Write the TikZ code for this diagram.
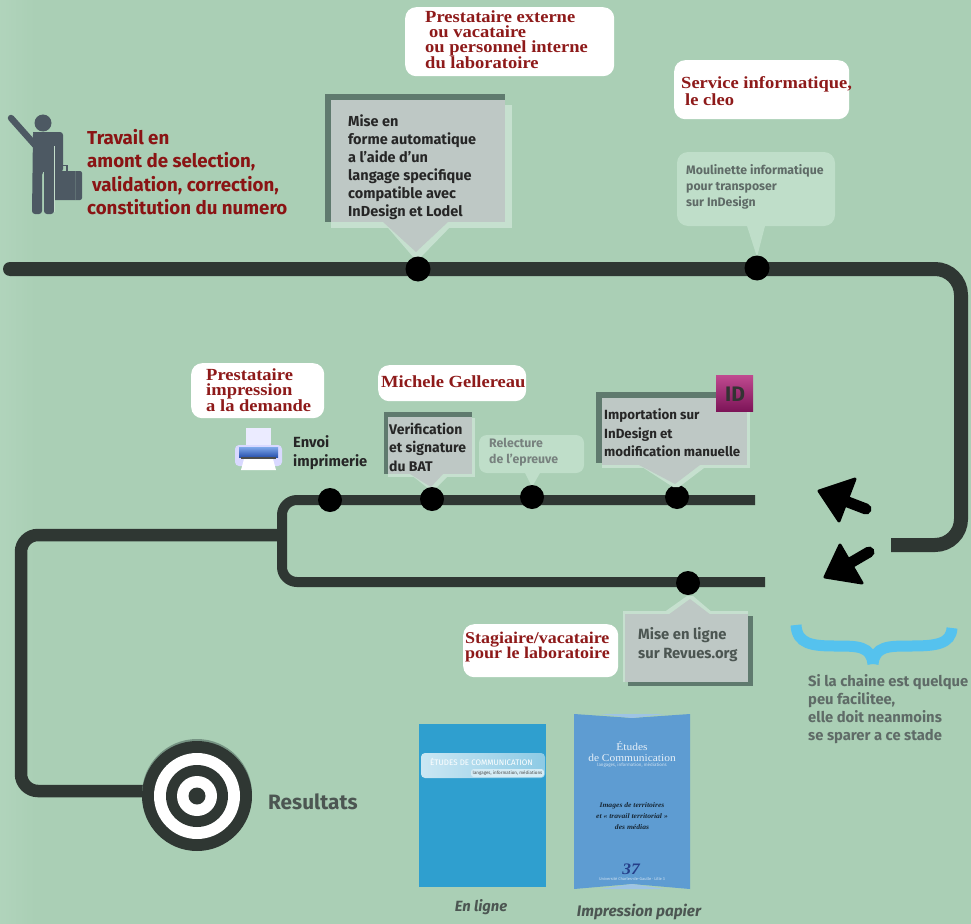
\documentclass[tikz,border=0pt]{standalone}
\usepackage{fontspec}
\setmainfont{Fira Sans}
\newfontfamily\serifb{Liberation Serif}[FakeStretch=1.09]
\usetikzlibrary{shadings}
\definecolor{bgc}{HTML}{AACFB5}
\definecolor{bgl}{HTML}{B1D4BC}
\definecolor{linec}{HTML}{2F3733}
\definecolor{redt}{HTML}{8A1414}
\definecolor{redd}{HTML}{8E1A1A}
\definecolor{graybox}{HTML}{BEC8C5}
\definecolor{darkedge}{HTML}{5F7A6E}
\definecolor{lite}{HTML}{C6E0CF}
\definecolor{bubble}{HTML}{BFDEC9}
\definecolor{greytxt}{HTML}{5F6B67}
\definecolor{iconc}{HTML}{4D5963}
\definecolor{bluebrace}{HTML}{55C2EE}
\definecolor{bookA}{HTML}{2F9FCF}
\definecolor{bookB}{HTML}{5E9CD2}
\definecolor{idtop}{HTML}{C04A90}
\definecolor{idbot}{HTML}{7D1458}
\definecolor{prA}{HTML}{7FA8EA}
\definecolor{prB}{HTML}{2A52AE}
\tikzset{
  x=1pt,y=-1pt,
  dot/.style={circle,fill=black,minimum size=#1,inner sep=0pt},
  rail/.style={draw=linec,line width=#1},
  who/.style={font=\serifb\bfseries\fontsize{17}{15}\selectfont,text=redd,align=left,anchor=west,inner sep=0pt},
  whob/.style={fill=white,rounded corners=11pt},
  body/.style={font=\bfseries\fontsize{14.5}{18}\selectfont,text=black!85,align=left,anchor=west,inner sep=0pt},
  softt/.style={font=\bfseries\fontsize{12.3}{16}\selectfont,text=greytxt,align=left,anchor=west,inner sep=0pt},
  ring/.style={circle,fill=#1,inner sep=0pt},
}
\begin{document}
\begin{tikzpicture}
\useasboundingbox (0,0) rectangle (971,923);
\fill[bgc] (-3,-3) rectangle (974,926);
\shade[left color=bgl,right color=bgc] (-3,-3) rectangle (35,926);
% rails
\coordinate (a0) at (10,269); \coordinate (a1) at (961,269); \coordinate (a2) at (961,545); \coordinate (a3) at (891,545);
\draw[rail=14,rounded corners=26pt] (a0) -- (a1) -- (a2) -- (a3);
\fill[linec] (a0) circle (7);
\coordinate (b0) at (755,500); \coordinate (b1) at (282,500); \coordinate (b2) at (282,582); \coordinate (b3) at (765,582);
\draw[rail=10,rounded corners=15pt] (b0) -- (b1) -- (b2) -- (b3);
\coordinate (c0) at (285,535); \coordinate (c1) at (21,535); \coordinate (c2) at (21,791); \coordinate (c3) at (190,791);
\draw[rail=12.5,rounded corners=17pt] (c0) -- (c1) -- (c2) -- (c3);
% person
\fill[iconc] (43,123) circle (8.5);
\draw[iconc,line width=6.5,line cap=round] (11,118) -- (35,145);
\fill[iconc,rounded corners=3pt] (33,132) -- (63,132) -- (63,172) -- (54,172) -- (54,214) -- (44,214) -- (44,172) -- (42,172) -- (42,214) -- (32,214) -- cycle;
\fill[iconc] (33,132) -- (45,132) -- (36,150) -- cycle;
\draw[iconc,line width=1.3] (57,171) -- (57,165.5) -- (67,165.5) -- (67,171);
\fill[iconc,rounded corners=2pt] (50,171) rectangle (82,200);
\draw[bgc!70!white,line width=1] (54,146) -- (54,212);
\draw[bgc,line width=1] (43,172) -- (43,212);
\draw[iconc!80!bgc,line width=.6] (75,171) -- (75,200);
\node[font=\bfseries\fontsize{18.7}{23.5}\selectfont,text=redt,align=left,anchor=west,inner sep=0pt] (travail) at (87,172) {Travail en\\amont de selection,\\\hspace*{5pt}validation, correction,\\constitution du numero};
% callout 1
\fill[darkedge] (325,94) rectangle (505,222);
\fill[lite] (331,105) rectangle (512,228);
\fill[lite] (383,222) -- (455,222) -- (420,258) -- (414,258) -- cycle;
\fill[graybox] (331,100) rectangle (505,222);
\fill[graybox] (383,222) -- (448,222) -- (416,252) -- cycle;
\node[body] (mise) at (348,167) {Mise en\\forme automatique\\a l'aide d'un\\langage specifique\\compatible avec\\InDesign et Lodel};
\node[whob,minimum width=209,minimum height=69,anchor=north west] (b1box) at (405,7) {};
\node[who] (presta) at (425,40) {Prestataire externe\\\hspace*{4pt}ou vacataire\\ou personnel interne\\du laboratoire};
% callout 2
\node[whob,minimum width=175,minimum height=59,anchor=north west] (b2box) at (674,60) {};
\node[who] (cleo) at (681,91) {Service informatique,\\\hspace*{4pt}le cleo};
\fill[bubble,rounded corners=11pt] (677,152) rectangle (835,226);
\fill[bubble] (747,226) -- (765,226) -- (757,257) -- cycle;
\node[softt] (moul) at (686,187) {Moulinette informatique\\pour transposer\\sur InDesign};
\node[dot=25] (d1) at (418,269) {};
\node[dot=25] (d2) at (757,268) {};
% row 2 labels
\node[whob,minimum width=133,minimum height=55,anchor=north west] (b3box) at (191,363) {};
\node[who] (pimp) at (206,390) {Prestataire\\impression\\a la demande};
\node[whob,minimum width=148,minimum height=36,anchor=north west] (b4box) at (378,365) {};
\node[who] (mg) at (381,382) {Michele Gellereau};
% printer
\fill[white!92!blue] (246,428) rectangle (271,446);
\fill[white!85!blue,rounded corners=4pt] (235,445) rectangle (282,466);
\shade[top color=prA,bottom color=prB] (239,447) rectangle (278,457);
\fill[black!70] (241,457) rectangle (276,459);
\fill[white] (244,459) -- (273,459) -- (276,470) -- (241,470) -- cycle;
\node[font=\bfseries\fontsize{14.7}{19}\selectfont,text=black!85,align=left,anchor=west,inner sep=0pt] (envoi) at (293,453) {Envoi\\imprimerie};
% verif
\fill[darkedge] (384,412) rectangle (472,474);
\fill[lite] (388,418) rectangle (475,477);
\fill[lite] (410,474) -- (450,474) -- (435,489) -- (429,489) -- cycle;
\fill[graybox] (388,417) rectangle (472,474);
\fill[graybox] (410,474) -- (443,474) -- (431,487) -- cycle;
\node[body,font=\bfseries\fontsize{14}{18.5}\selectfont] (verif) at (389,447) {Verification\\et signature\\du BAT};
\fill[bubble,rounded corners=8pt] (479,435) rectangle (584,473);
\fill[bubble] (525,473) -- (540,473) -- (532,487) -- cycle;
% rail dots
\node[dot=24] (d3) at (330,500) {};
\node[dot=24] (d4) at (432,499) {};
\node[dot=24] (d5) at (532,497) {};
\node[dot=24] (d6) at (677,497) {};
\node[dot=24] (d7) at (688,583) {};
\node[softt,text=greytxt!85!white] (relec) at (489,452) {Relecture\\de l'epreuve};
% import
\fill[darkedge] (596,392) rectangle (720,463);
\fill[lite] (602,400) rectangle (750,468);
\fill[lite] (639,465) -- (708,465) -- (679,487) -- (673,487) -- cycle;
\fill[graybox] (602,398) rectangle (747,465);
\fill[graybox] (639,465) -- (700,465) -- (675,484) -- cycle;
\node[body,font=\bfseries\fontsize{13.3}{18.5}\selectfont] (imp) at (604,433) {Importation sur\\InDesign et\\modification manuelle};
\shade[top color=idtop,bottom color=idbot] (716,375) rectangle (753,411);
\node[font=\bfseries\fontsize{21}{21}\selectfont,text=black!80,inner sep=0pt] (idl) at (735,394) {ID};
% revues
\fill[darkedge] (628,616) rectangle (753,686);
\fill[lite] (623,611) rectangle (748,682);
\fill[lite] (663,613) -- (713,613) -- (693,596) -- (687,596) -- cycle;
\fill[graybox] (625,614) rectangle (748,682);
\fill[graybox] (668,615) -- (711,615) -- (690,599) -- cycle;
\node[body,font=\bfseries\fontsize{14.8}{19}\selectfont,text=greytxt!80!black] (rev) at (638,645) {Mise en ligne\\sur Revues.org};
\node[whob,minimum width=155,minimum height=53,anchor=north west] (b5box) at (463,624) {};
\node[who,font=\serifb\bfseries\fontsize{16.5}{15.5}\selectfont] (stag) at (465,647) {Stagiaire/vacataire\\pour le laboratoire};
% black arrows
\coordinate (t1) at (819,491); \coordinate (t1e) at (866,509);
\draw[black,line width=11,line cap=round] (840,499) -- (t1e);
\fill[black,draw=black,line width=3,line join=round] (t1) -- (855,479) -- (839,521) -- cycle;
\coordinate (t2) at (825,577); \coordinate (t2e) at (869,552);
\draw[black,line width=11,line cap=round] (845,566) -- (t2e);
\fill[black,draw=black,line width=3,line join=round] (t2) -- (840,545) -- (862,583) -- cycle;
% brace
\draw[bluebrace,line width=11] (796,625) .. controls (797,644) and (812,646) .. (835,646) .. controls (858,646) and (871,646) .. (873,664);
\draw[bluebrace,line width=11] (952,628) .. controls (951,644) and (936,646) .. (911,646) .. controls (888,646) and (875,646) .. (873,664);
\node[softt,font=\bfseries\fontsize{14.8}{18}\selectfont] (sila) at (808,709) {Si la chaine est quelque\\peu facilitee,\\elle doit neanmoins\\se sparer a ce stade};
% target
\node[ring=darkedge!70!bgc,minimum size=110] (tgback) at (197,794) {};
\node[ring=linec,minimum size=110] (tg0) at (197,796) {};
\node[ring=white,minimum size=86] (tg1) at (197,796) {};
\node[ring=linec,minimum size=62] (tg2) at (197,796) {};
\node[ring=white,minimum size=40] (tg3) at (197,796) {};
\node[ring=linec,minimum size=17] (tg4) at (197,796) {};
\node[font=\bfseries\fontsize{20.8}{21}\selectfont,text=greytxt!80!black,anchor=west,inner sep=0pt] (res) at (268,802) {Resultats};
% book A
\fill[bookA] (419,724) rectangle (546,887);
\shade[left color=white!75!bookA,right color=white!45!bookA,rounded corners=4pt] (421,753) rectangle (545,778);
\node[font=\fontsize{8}{8}\selectfont,text=white,anchor=west,inner sep=0pt] (ea) at (430,762) {ÉTUDES DE COMMUNICATION};
\node[font=\fontsize{4.5}{5}\selectfont,text=black!70,fill=white!80!bookA,rounded corners=2pt,inner sep=1.5pt,anchor=east] (eb) at (544,773) {langages, information, médiations};
% book B
\fill[bookB] (574,714) -- (632,718) -- (690,714) -- (690,889) -- (632,884) -- (574,889) -- cycle;
\fill[white!40!bookB] (600,714) -- (632,718) -- (665,714) -- cycle;
\fill[white!40!bookB] (600,889) -- (632,884) -- (665,889) -- cycle;
\node[font=\serifb\fontsize{10.5}{11}\selectfont,text=white!85!bookB,align=center,inner sep=0pt] (ec) at (632,752) {Études\\de Communication};
\node[font=\fontsize{4.5}{5}\selectfont,text=white!70!bookB,inner sep=0pt] (ed) at (632,765) {langages, information, médiations};
\node[font=\serifb\bfseries\itshape\fontsize{7}{11}\selectfont,text=black!75!bookB,align=center,inner sep=0pt] (ee) at (632,816) {Images de territoires\\et « travail territorial »\\des médias};
\node[font=\serifb\bfseries\itshape\fontsize{16}{16}\selectfont,text=black!65!blue!60!bookB,inner sep=0pt] (ef) at (631,869) {37};
\node[font=\fontsize{4}{5}\selectfont,text=white!70!bookB,inner sep=0pt] (eg) at (632,879) {Université Charles-de-Gaulle · Lille 3};
\node[font=\bfseries\itshape\fontsize{14.8}{15}\selectfont,text=greytxt!80!black,inner sep=0pt] (el) at (481,907) {En ligne};
\node[font=\bfseries\itshape\fontsize{15.3}{15}\selectfont,text=greytxt!80!black,inner sep=0pt] (ip) at (639,912) {Impression papier};
\end{tikzpicture}
\end{document}
